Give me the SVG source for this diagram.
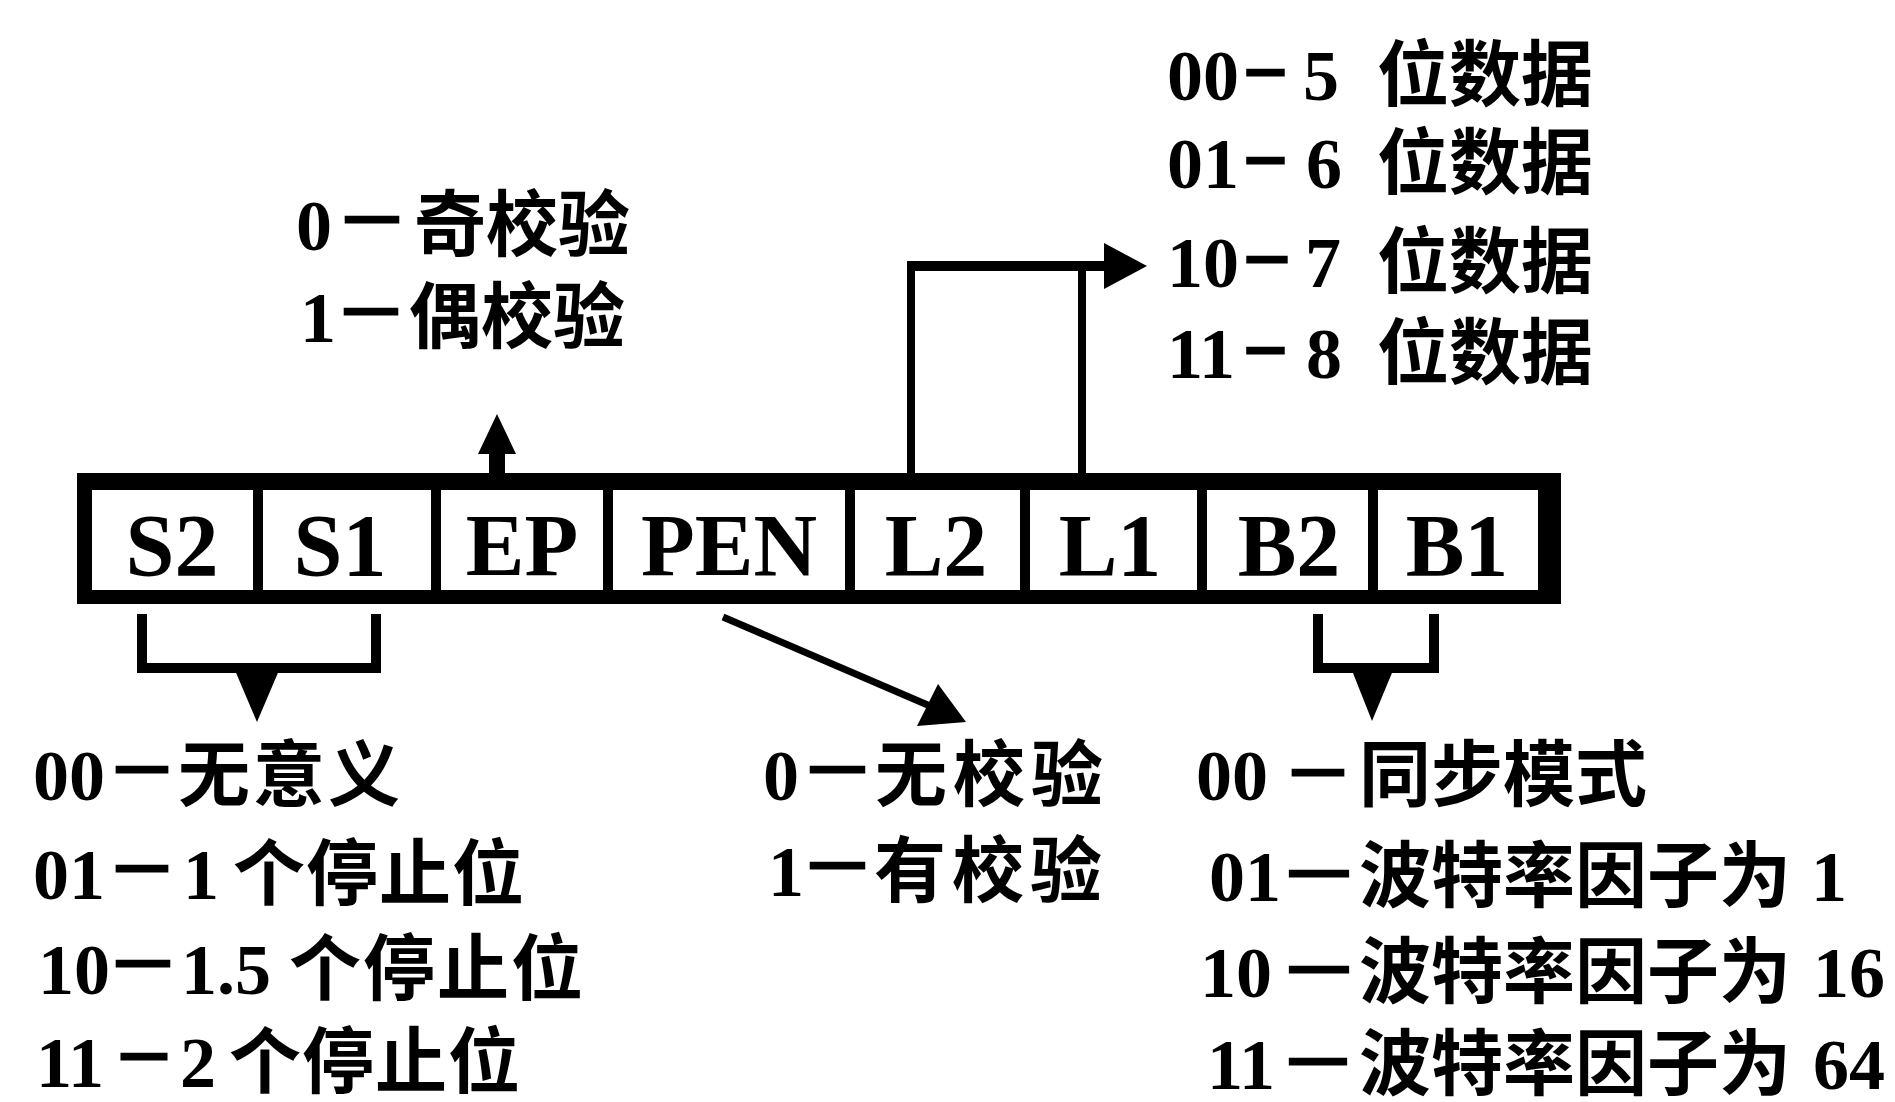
<svg xmlns="http://www.w3.org/2000/svg" width="1895" height="1102" viewBox="0 0 1895 1102">
<style>
  .bg { fill: #ffffff; }
  .frame { fill: #000000; }
  .cell { fill: #ffffff; }
  .lbl { font-family: "Liberation Serif", "Times New Roman", serif; font-weight: bold; font-size: 88px; fill: #000; text-anchor: middle; }
  .t { font-family: "Liberation Serif", "Noto Sans CJK SC", serif; font-weight: bold; font-size: 72px; fill: #000; }
  .c { font-family: "Noto Sans CJK SC", "Noto Sans CJK JP", sans-serif; font-weight: bold; font-size: 72px; }
  .d { font-family: "Noto Sans CJK SC", "Noto Sans CJK JP", sans-serif; font-weight: bold; font-size: 56px; stroke: #000; stroke-width: 2.5px; }
  .ln { fill: none; stroke: #000; stroke-width: 10; stroke-linejoin: miter; stroke-linecap: butt; }
  .ln8 { fill: none; stroke: #000; stroke-width: 8; stroke-linecap: butt; }
  .ah { fill: #000; stroke: none; }
</style>
<rect class="bg" x="0" y="0" width="1895" height="1102"/>

<g id="register">
  <rect class="frame" x="77" y="473" width="1484" height="131"/>
  <g id="cell-S2"><rect class="cell" x="92" y="490" width="161" height="100"/><text class="lbl" x="172" y="575">S2</text></g>
  <g id="cell-S1"><rect class="cell" x="263" y="490" width="168" height="100"/><text class="lbl" x="340" y="575">S1</text></g>
  <g id="cell-EP"><rect class="cell" x="441" y="490" width="162" height="100"/><text class="lbl" x="522" y="575">EP</text></g>
  <g id="cell-PEN"><rect class="cell" x="613" y="490" width="232" height="100"/><text class="lbl" x="729" y="575">PEN</text></g>
  <g id="cell-L2"><rect class="cell" x="855" y="490" width="165" height="100"/><text class="lbl" x="936" y="575">L2</text></g>
  <g id="cell-L1"><rect class="cell" x="1030" y="490" width="167" height="100"/><text class="lbl" x="1110" y="575">L1</text></g>
  <g id="cell-B2"><rect class="cell" x="1207" y="490" width="161" height="100"/><text class="lbl" x="1289" y="575">B2</text></g>
  <g id="cell-B1"><rect class="cell" x="1378" y="490" width="160" height="100"/><text class="lbl" x="1457" y="575">B1</text></g>
</g>

<g id="connectors">
  <!-- EP up arrow -->
  <polygon class="ah" points="497,414 516,454 505,454 505,474 489,474 489,454 478,454"/>
  <!-- L2/L1 bracket to data bits -->
  <path class="ln8" d="M911,474 V266"/>
  <path class="ln8" d="M1082,474 V266"/>
  <path class="ln" d="M907,266 H1108"/>
  <polygon class="ah" points="1104,243 1147,266 1104,289"/>
  <!-- S2/S1 bracket -->
  <path class="ln" d="M142,614 V668 H376 V614"/>
  <polygon class="ah" points="234,668 280,668 257,722"/>
  <!-- PEN diagonal -->
  <line class="ln8" x1="723" y1="617" x2="930" y2="706" style="stroke-width:7"/>
  <polygon class="ah" points="938,684 917,726 966,722"/>
  <!-- B2/B1 bracket -->
  <path class="ln" d="M1318,614 V668 H1434 V614"/>
  <polygon class="ah" points="1351,668 1394,668 1372,721"/>
</g>

<g id="note-parity-type">
  <text class="t" y="250"><tspan x="296">0</tspan><tspan class="d" x="343" y="236" textLength="58" lengthAdjust="spacingAndGlyphs">—</tspan><tspan class="c" x="414" y="250">奇校验</tspan></text>
  <text class="t" y="342"><tspan x="300">1</tspan><tspan class="d" x="342" y="328" textLength="58" lengthAdjust="spacingAndGlyphs">—</tspan><tspan class="c" x="409" y="342">偶校验</tspan></text>
</g>

<g id="note-data-bits">
  <text class="t" y="100"><tspan x="1167">00</tspan><tspan class="d" x="1245" y="89" textLength="41" lengthAdjust="spacingAndGlyphs">—</tspan><tspan x="1303" y="100">5</tspan><tspan class="c" x="1377" y="100">位数据</tspan></text>
  <text class="t" y="188"><tspan x="1167">01</tspan><tspan class="d" x="1245" y="177" textLength="41" lengthAdjust="spacingAndGlyphs">—</tspan><tspan x="1306" y="188">6</tspan><tspan class="c" x="1377" y="188">位数据</tspan></text>
  <text class="t" y="287"><tspan x="1167">10</tspan><tspan class="d" x="1245" y="276" textLength="44" lengthAdjust="spacingAndGlyphs">—</tspan><tspan x="1305" y="287">7</tspan><tspan class="c" x="1377" y="287">位数据</tspan></text>
  <text class="t" y="378"><tspan x="1167">11</tspan><tspan class="d" x="1245" y="367" textLength="41" lengthAdjust="spacingAndGlyphs">—</tspan><tspan x="1306" y="378">8</tspan><tspan class="c" x="1377" y="378">位数据</tspan></text>
</g>

<g id="note-stop-bits">
  <text class="t" y="800"><tspan x="33">00</tspan><tspan class="d" x="114" y="786" textLength="56" lengthAdjust="spacingAndGlyphs">—</tspan><tspan class="c" x="178" y="800" letter-spacing="3">无意义</tspan></text>
  <text class="t" y="899"><tspan x="33">01</tspan><tspan class="d" x="114" y="885" textLength="56" lengthAdjust="spacingAndGlyphs">—</tspan><tspan x="183" y="899">1</tspan><tspan class="c" x="233" y="899" letter-spacing="1">个停止位</tspan></text>
  <text class="t" y="994"><tspan x="38">10</tspan><tspan class="d" x="114" y="980" textLength="58" lengthAdjust="spacingAndGlyphs">—</tspan><tspan x="181" y="994">1.5</tspan><tspan class="c" x="289" y="994" letter-spacing="2">个停止位</tspan></text>
  <text class="t" y="1087"><tspan x="36">11</tspan><tspan class="d" x="119" y="1073" textLength="50" lengthAdjust="spacingAndGlyphs">—</tspan><tspan x="180" y="1087">2</tspan><tspan class="c" x="229" y="1087" letter-spacing="1">个停止位</tspan></text>
</g>

<g id="note-parity-enable">
  <text class="t" y="800"><tspan x="763">0</tspan><tspan class="d" x="808" y="786" textLength="59" lengthAdjust="spacingAndGlyphs">—</tspan><tspan class="c" x="875" y="800" letter-spacing="6">无校验</tspan></text>
  <text class="t" y="896"><tspan x="768">1</tspan><tspan class="d" x="808" y="882" textLength="59" lengthAdjust="spacingAndGlyphs">—</tspan><tspan class="c" x="874" y="896" letter-spacing="6">有校验</tspan></text>
</g>

<g id="note-baud-factor">
  <text class="t" y="800"><tspan x="1196">00</tspan><tspan class="d" x="1290" y="789" textLength="56" lengthAdjust="spacingAndGlyphs">—</tspan><tspan class="c" x="1359" y="800">同步模式</tspan></text>
  <text class="t" y="901"><tspan x="1209">01</tspan><tspan class="d" x="1287" y="890" textLength="64" lengthAdjust="spacingAndGlyphs">—</tspan><tspan class="c" x="1359" y="901">波特率因子为</tspan><tspan x="1811" y="901">1</tspan></text>
  <text class="t" y="997"><tspan x="1200">10</tspan><tspan class="d" x="1287" y="986" textLength="64" lengthAdjust="spacingAndGlyphs">—</tspan><tspan class="c" x="1359" y="997">波特率因子为</tspan><tspan x="1813" y="997">16</tspan></text>
  <text class="t" y="1089"><tspan x="1207">11</tspan><tspan class="d" x="1287" y="1078" textLength="62" lengthAdjust="spacingAndGlyphs">—</tspan><tspan class="c" x="1359" y="1089">波特率因子为</tspan><tspan x="1813" y="1089">64</tspan></text>
</g>
</svg>
